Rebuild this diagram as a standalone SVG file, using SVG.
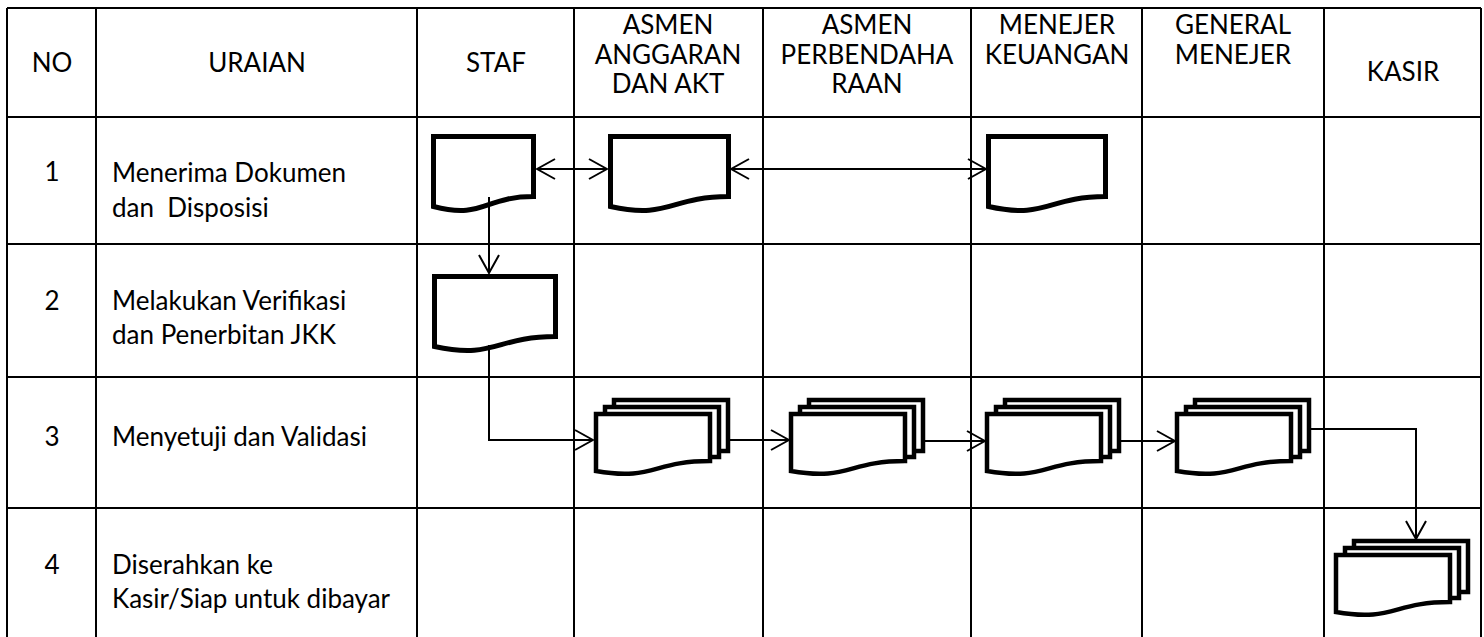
<svg xmlns="http://www.w3.org/2000/svg" width="1484" height="637" viewBox="0 0 1484 637">
<defs>
<style>
.grid{stroke:#000;stroke-width:2;fill:none}
.t{font-family:Lato,"Open Sans","Liberation Sans",sans-serif;font-size:26px;fill:#000}
.c{text-anchor:middle}
.doc{fill:#fff;stroke:#000;stroke-width:5;stroke-linejoin:miter}
.md{fill:#fff;stroke:#000;stroke-width:4.5;stroke-linejoin:miter}
.con{fill:none;stroke:#000;stroke-width:2}
</style>
<marker id="arr" viewBox="0 0 20 22" refX="19" refY="11" markerWidth="20" markerHeight="22" markerUnits="userSpaceOnUse" orient="auto-start-reverse">
<path d="M1,1 L19,11 L1,21" fill="none" stroke="#000" stroke-width="2"/>
</marker>
<g id="mdoc">
<rect x="18" y="-14" width="114" height="51" class="md"/>
<rect x="9" y="-7" width="114" height="50" class="md"/>
<path d="M0,0 H114 V47 C57,47 57,67 0,57 Z" class="md"/>
</g>
</defs>
<rect width="1484" height="637" fill="#fff"/>
<g id="table">
<path class="grid" d="M7,8 H1481 M7,117 H1481 M7,244 H1481 M7,377 H1481 M7,508 H1481 M7,8 V640 M96,8 V640 M417,8 V640 M574,8 V640 M763,8 V640 M971,8 V640 M1142,8 V640 M1324,8 V640 M1481,8 V640"/>
<text class="t c" x="52" y="72">NO</text>
<text class="t c" x="257" y="72">URAIAN</text>
<text class="t c" x="496" y="72">STAF</text>
<text class="t c" x="668" y="34">ASMEN</text>
<text class="t c" x="668" y="64">ANGGARAN</text>
<text class="t c" x="668" y="93">DAN AKT</text>
<text class="t c" x="867" y="34">ASMEN</text>
<text class="t c" x="867" y="64">PERBENDAHA</text>
<text class="t c" x="867" y="93">RAAN</text>
<text class="t c" x="1057" y="34">MENEJER</text>
<text class="t c" x="1057" y="64">KEUANGAN</text>
<text class="t c" x="1233" y="34">GENERAL</text>
<text class="t c" x="1233" y="64">MENEJER</text>
<text class="t c" x="1403" y="81">KASIR</text>
<text class="t c" x="52" y="181">1</text>
<text class="t" x="112" y="182">Menerima Dokumen</text>
<text class="t" x="112" y="217" xml:space="preserve">dan  Disposisi</text>
<text class="t c" x="52" y="310">2</text>
<text class="t" x="112" y="310">Melakukan Verifikasi</text>
<text class="t" x="112" y="344">dan Penerbitan JKK</text>
<text class="t c" x="52" y="446">3</text>
<text class="t" x="112" y="446">Menyetuji dan Validasi</text>
<text class="t c" x="52" y="574">4</text>
<text class="t" x="112" y="574">Diserahkan ke</text>
<text class="t" x="112" y="608">Kasir/Siap untuk dibayar</text>
</g>
<g id="connectors">
<path class="con" d="M489,197 V273" marker-end="url(#arr)"/>
<path class="con" d="M537,169 H607" marker-start="url(#arr)" marker-end="url(#arr)"/>
<path class="con" d="M731,169 H986" marker-start="url(#arr)" marker-end="url(#arr)"/>
<path class="con" d="M489,345 V440 H593"/>
<path class="con" d="M489,440 H593" marker-end="url(#arr)"/>
<path class="con" d="M730,440 H789" marker-end="url(#arr)"/>
<path class="con" d="M925,441 H985" marker-end="url(#arr)"/>
<path class="con" d="M1121,441 H1175" marker-end="url(#arr)"/>
<path class="con" d="M1311,429 H1416 V539" marker-end="url(#arr)"/>
</g>
<g id="doc-staf-1"><path class="doc" d="M433.5,136.5 H533.5 V196.6 C483.5,196.6 483.5,219.5 433.5,206.5 Z"/></g>
<g id="doc-staf-2"><path class="doc" d="M434.5,276.5 H555.5 V336.6 C495,336.6 495,359.5 434.5,346.5 Z"/></g>
<g id="doc-anggaran-1"><path class="doc" d="M610.5,136.5 H728.5 V196.6 C669.5,196.6 669.5,219.5 610.5,206.5 Z"/></g>
<g id="doc-keuangan-1"><path class="doc" d="M988.5,136.5 H1105.5 V196.6 C1047,196.6 1047,219.5 988.5,206.5 Z"/></g>
<g id="mdoc-anggaran-3"><use href="#mdoc" x="596" y="414"/></g>
<g id="mdoc-perbendaharaan-3"><use href="#mdoc" x="791" y="414"/></g>
<g id="mdoc-keuangan-3"><use href="#mdoc" x="987" y="414"/></g>
<g id="mdoc-general-3"><use href="#mdoc" x="1177" y="414"/></g>
<g id="mdoc-kasir-4"><use href="#mdoc" x="1336" y="555"/></g>
<g id="connector-overlay">
<path class="con" d="M489,197 V215"/>
<path class="con" d="M489,345 V356"/>
</g>
</svg>
